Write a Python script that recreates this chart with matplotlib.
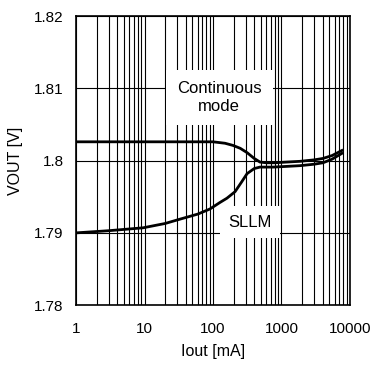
import matplotlib
matplotlib.use("Agg")
import matplotlib.pyplot as plt
from matplotlib.ticker import LogLocator, NullFormatter

plt.rcParams['font.family'] = ['Liberation Sans', 'DejaVu Sans']

# Continuous mode curve
cont_iout = [1, 10, 50, 100, 150, 196, 250, 315, 400, 485, 600, 800, 1200,
             1870, 3000, 4050, 5500, 7650]
cont_vout = [1.8026, 1.8026, 1.8026, 1.8026, 1.8024, 1.8021, 1.8017, 1.8011,
             1.8003, 1.7998, 1.7997, 1.7997, 1.7998, 1.7999, 1.8001, 1.8003,
             1.8007, 1.8014]

# SLLM curve
sllm_iout = [1, 3, 9.5, 20, 33, 60, 90, 126, 160, 210, 260, 315, 400, 485,
             750, 1200, 1870, 3000, 4050, 5500, 7650]
sllm_vout = [1.7900, 1.7903, 1.7907, 1.7913, 1.7919, 1.7926, 1.7933, 1.7942,
             1.7948, 1.7957, 1.7970, 1.7982, 1.7989, 1.7991, 1.7991, 1.7992,
             1.7993, 1.7995, 1.7997, 1.8002, 1.8010]

x_ticks = [1, 10, 100, 1000, 10000]
x_labels = ['1', '10', '100', '1000', '10000']
y_ticks = [1.78, 1.79, 1.80, 1.81, 1.82]
y_labels = ['1.78', '1.79', '1.8', '1.81', '1.82']

fig = plt.figure(figsize=(3.75, 3.65), dpi=100)
ax = fig.add_axes([0.203, 0.164, 0.730, 0.792])

ax.set_xscale('log')
ax.set_xlim(1, 10000)
ax.set_ylim(1.78, 1.82)

ax.xaxis.set_minor_locator(LogLocator(base=10, subs=range(2, 10), numticks=20))
ax.xaxis.set_minor_formatter(NullFormatter())
ax.set_xticks(x_ticks)
ax.set_xticklabels(x_labels)
ax.set_yticks(y_ticks)
ax.set_yticklabels(y_labels)

ax.grid(which='major', axis='both', color='black', linewidth=0.8)
ax.grid(which='minor', axis='x', color='black', linewidth=0.8)
ax.tick_params(which='both', length=0, labelsize=11)
ax.tick_params(axis='y', pad=9)
ax.tick_params(axis='x', pad=12)

for spine in ax.spines.values():
    spine.set_linewidth(1.2)

ax.plot(cont_iout, cont_vout, color='black', linewidth=2.0, zorder=3)
ax.plot(sllm_iout, sllm_vout, color='black', linewidth=2.0, zorder=3)

ax.text(123, 1.8087, 'Continuous\nmode', fontsize=12, ha='center', va='center',
        linespacing=1.25, zorder=4,
        bbox=dict(facecolor='white', edgecolor='none', pad=8))
ax.text(347, 1.7915, 'SLLM', fontsize=12, ha='center', va='center', zorder=4,
        bbox=dict(facecolor='white', edgecolor='none', pad=6))

ax.set_xlabel('Iout [mA]', fontsize=11.5, labelpad=6)
ax.set_ylabel('VOUT [V]', fontsize=11.5, labelpad=8)

fig.savefig('out.png', dpi=100)
